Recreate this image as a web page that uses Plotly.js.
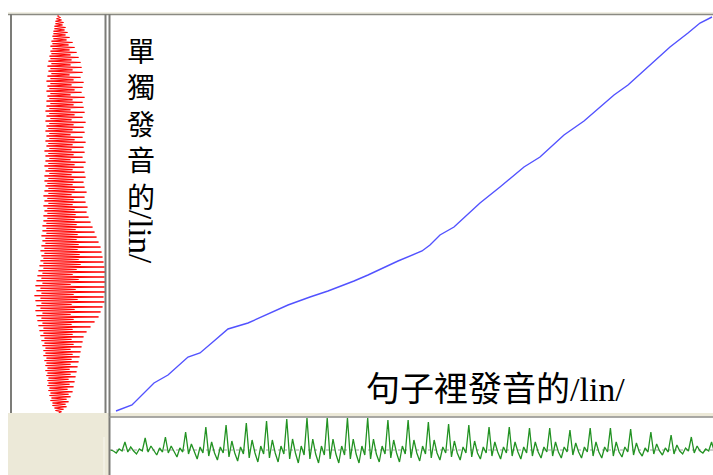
<!DOCTYPE html>
<html>
<head>
<meta charset="utf-8">
<script src="https://cdn.plot.ly/plotly-3.0.1.min.js"></script>
<style>
  html, body { margin: 0; padding: 0; background: #ffffff; }
  #chart { width: 713px; height: 475px; }
</style>
</head>
<body>
<div id="chart"></div>
<script>
// Isolated /lin/ waveform (drawn top to bottom, amplitude left/right of zero)
const isolatedWave = [0,
  -1,2, -2,3, -3,5, -3,4, -4,7, -4,6, -5,9, -5,7, -6,11, -5,8,
  -7,14, -6,10, -8,16, -6,11, -8,18, -7,12, -9,20, -8,13,
  -10,22, -7,12, -11,23, -8,14, -10,24, -7,11, -11,22, -8,15, -12,25, -8,13,
  -11,24, -9,16, -12,23, -8,12, -11,26, -9,14, -12,24, -8,15, -12,25, -9,12,
  -13,26, -9,16, -12,24, -8,13, -13,27, -9,15, -12,25, -10,14, -13,26, -9,12,
  -12,24, -9,16, -13,27, -10,14, -12,25, -9,13, -14,26, -10,15, -13,24, -9,12,
  -13,27, -10,16, -14,25, -10,14, -13,26, -9,13, -14,27, -10,15, -14,25, -11,14,
  -13,26, -10,16, -14,28, -10,13, -15,26, -11,15, -14,27, -10,14, -15,29, -11,16,
  -14,28, -11,17,
  -15,30, -11,16, -15,32, -12,18, -16,34, -12,17, -16,36, -12,19, -17,38, -13,18,
  -16,40, -13,20, -17,42, -14,19, -18,43, -14,21, -17,44, -15,20, -18,45, -15,22,
  -19,46, -15,18, -20,47, -16,14, -21,46, -17,20, -22,47, -16,12, -23,46, -18,17,
  -22,47, -17,15, -24,45, -18,19, -23,46, -17,13, -22,44, -18,16, -23,42, -16,12,
  -22,40, -17,15, -21,36, -16,13, -20,32, -15,14,
  -19,28, -15,14, -18,25, -14,13, -17,24, -14,15, -16,23, -13,12, -15,22, -13,14,
  -15,21, -12,13, -14,20, -12,12, -13,19, -11,11, -13,18, -11,12, -12,17, -10,10,
  -11,16, -10,11, -11,15, -9,9, -10,14, -8,10, -9,12, -7,8, -8,10, -6,7,
  -6,8, -4,5, -3,3, 0];

// /lin/ spoken inside a sentence (drawn left to right)
const sentenceWave = [0, -1,
  -3,1,-1,8,-2,3,-1,      -4,1,-1,12,-2,4,-1,     -5,2,-2,13,-3,4,-1,
  -7,2,-2,18,-4,6,-2,     -9,3,-3,23,-6,8,-3,     -10,3,-3,25,-7,9,-3,
  -11,3,-4,27,-8,10,-3,   -12,4,-4,29,-8,10,-3,   -12,4,-4,31,-9,11,-3,
  -13,4,-5,32,-9,11,-4,   -13,4,-5,32,-9,11,-4,   -13,4,-5,32,-9,11,-4,
  -13,4,-5,32,-9,11,-4,   -12,4,-4,30,-8,10,-3,   -12,4,-4,30,-8,10,-3,
  -11,4,-4,28,-8,10,-3,   -10,3,-3,26,-7,9,-3,    -10,3,-3,25,-7,9,-3,
  -9,3,-3,23,-6,8,-2,     -9,3,-3,23,-6,8,-2,     -9,3,-3,22,-6,8,-2,
  -8,3,-2,22,-6,8,-2,     -8,3,-2,20,-5,7,-2,     -8,3,-2,22,-6,8,-2,
  -8,3,-2,22,-6,8,-2,     -7,3,-2,21,-5,7,-2,     -6,2,-2,18,-4,6,-1,
  -5,2,-2,15,-4,5,-1,     -4,2,-1,13,-3,4,-1,     -3,1,-1,8,-2,3,-1,
  -1, 0];

// Warping path: frame in sentence (x) against frame in isolated word (y)
const pathSentenceFrame = [3, 11, 22, 29, 39, 45, 52, 59, 69, 80, 89, 100, 109, 122, 129, 144,
  156, 160, 165, 172, 185, 195, 207, 215, 227, 237, 252, 259, 269, 280, 289, 295, 301];
const pathIsolatedFrame = [1, 4, 15, 19, 28, 30, 36, 42, 45, 50, 54, 58, 61, 66, 69, 76,
  81, 84, 89, 93, 105, 113, 123, 128, 139, 146, 159, 164, 173, 183, 190, 195, 198];

const isolatedLabelChars = ['單', '獨', '發', '音', '的'];
const isolatedLabelLatin = '/lin/';
const sentenceLabel = '句子裡發音的/lin/';

const W = 713, H = 475;
const px = v => v / W;
const py = v => 1 - v / H;

const traces = [
  {
    x: pathSentenceFrame, y: pathIsolatedFrame, xaxis: 'x', yaxis: 'y',
    type: 'scatter', mode: 'lines',
    line: { color: '#5252ff', width: 1.4 }, hoverinfo: 'skip'
  },
  {
    x: isolatedWave, y: isolatedWave.map((_, i) => i), xaxis: 'x2', yaxis: 'y2',
    type: 'scatter', mode: 'lines',
    line: { color: '#ff0000', width: 1 }, hoverinfo: 'skip'
  },
  {
    x: sentenceWave.map((_, i) => i), y: sentenceWave, xaxis: 'x3', yaxis: 'y3',
    type: 'scatter', mode: 'lines',
    line: { color: '#229222', width: 1.3 }, hoverinfo: 'skip'
  }
];

const hidden = { showgrid: false, zeroline: false, showticklabels: false, ticks: '', showline: false, fixedrange: true };

const shapes = [
  // beige frame areas
  { type: 'rect', xref: 'paper', yref: 'paper', x0: px(8), x1: px(109), y0: 0, y1: py(413),
    fillcolor: '#ece9d8', line: { width: 0 }, layer: 'below' },
  { type: 'rect', xref: 'paper', yref: 'paper', x0: px(8), x1: 1, y0: py(416.5), y1: py(413),
    fillcolor: '#ece9d8', line: { width: 0 }, layer: 'below' },
  // top frame line
  { type: 'line', xref: 'paper', yref: 'paper', x0: px(8), x1: 1, y0: py(13), y1: py(13),
    line: { color: '#e3dfc8', width: 1 } },
  { type: 'line', xref: 'paper', yref: 'paper', x0: px(8), x1: 1, y0: py(14.5), y1: py(14.5),
    line: { color: '#8a8a82', width: 1.5 } },
  // panel borders
  { type: 'line', xref: 'paper', yref: 'paper', x0: px(11), x1: px(11), y0: py(413), y1: py(14),
    line: { color: '#7c7c78', width: 2 } },
  { type: 'line', xref: 'paper', yref: 'paper', x0: px(105.5), x1: px(105.5), y0: py(413), y1: py(14),
    line: { color: '#7c7c78', width: 2 } },
  { type: 'line', xref: 'paper', yref: 'paper', x0: px(109.5), x1: px(109.5), y0: 0, y1: py(14),
    line: { color: '#7c7c78', width: 2 } },
  { type: 'line', xref: 'paper', yref: 'paper', x0: px(109), x1: 1, y0: py(417), y1: py(417),
    line: { color: '#8c8c88', width: 1.5 } },
  { type: 'line', xref: 'paper', yref: 'paper', x0: px(104), x1: px(104), y0: 0, y1: py(437),
    line: { color: '#f8f7f0', width: 1 } },
  // zero line of the sentence waveform
  { type: 'line', xref: 'x3 domain', yref: 'y3', x0: 0, x1: 1, y0: 0, y1: 0,
    line: { color: '#9a9a9a', width: 1, dash: 'dot' }, layer: 'below' }
];

const cjkFont = { family: "'Noto Sans CJK TC', 'Noto Sans CJK SC', sans-serif", size: 28, color: '#000000' };
const latinFont = { family: "'Liberation Serif', 'Noto Sans CJK TC', serif", size: 33, color: '#000000' };
const sentenceFont = { family: "'Liberation Serif', 'Noto Sans CJK TC', serif", size: 34, color: '#000000' };

const annotations = [
  {
    // stacked characters of the vertical label
    text: isolatedLabelChars.join('<br>'), xref: 'paper', yref: 'paper', x: px(141), y: py(123),
    xanchor: 'center', yanchor: 'middle', showarrow: false, font: cjkFont
  },
  {
    text: isolatedLabelLatin, xref: 'paper', yref: 'paper', x: px(140), y: py(237),
    xanchor: 'center', yanchor: 'middle', showarrow: false, textangle: 90, font: latinFont
  },
  {
    text: sentenceLabel, xref: 'paper', yref: 'paper', x: px(364), y: py(389),
    xanchor: 'left', yanchor: 'middle', showarrow: false, font: sentenceFont
  }
];

const layout = {
  width: W, height: H,
  margin: { l: 0, r: 0, t: 0, b: 0, pad: 0 },
  paper_bgcolor: '#ffffff', plot_bgcolor: 'rgba(0,0,0,0)',
  showlegend: false,
  xaxis: Object.assign({}, hidden, { domain: [px(110), 1], range: [0, 301.5], anchor: 'y' }),
  yaxis: Object.assign({}, hidden, { domain: [py(413), py(15)], range: [0, 199], anchor: 'x' }),
  xaxis2: Object.assign({}, hidden, { domain: [px(12), px(105)], range: [-46.5, 46.5], anchor: 'y2' }),
  yaxis2: Object.assign({}, hidden, { domain: [py(413), py(15)], range: [isolatedWave.length - 1, 0], anchor: 'x2' }),
  xaxis3: Object.assign({}, hidden, { domain: [px(110), 1], range: [-0.17, 208.5], anchor: 'y3' }),
  yaxis3: Object.assign({}, hidden, { domain: [0, py(417)], range: [-25, 33], anchor: 'x3' }),
  shapes: shapes,
  annotations: annotations
};

Plotly.newPlot('chart', traces, layout, { staticPlot: true, displayModeBar: false });
</script>
</body>
</html>
